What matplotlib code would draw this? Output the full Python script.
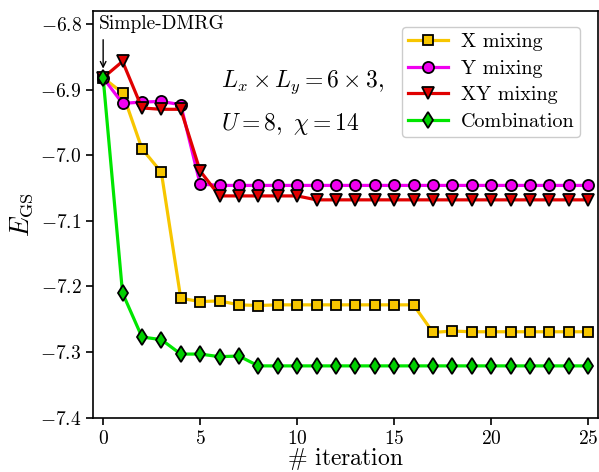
import numpy as np
import matplotlib
matplotlib.use("Agg")
import matplotlib.pyplot as plt

plt.rcParams['font.family'] = 'serif'
plt.rcParams['font.serif'] = ['cmr10']
plt.rcParams['mathtext.fontset'] = 'cm'
plt.rcParams['axes.formatter.use_mathtext'] = True

# iterations
iterations = np.arange(26)

# ground state energies
e_x = [-6.882, -6.905, -6.990, -7.026, -7.218, -7.223, -7.222, -7.228, -7.229,
       -7.228, -7.228, -7.228, -7.228, -7.228, -7.228, -7.228, -7.228,
       -7.270, -7.268, -7.269, -7.269, -7.269, -7.269, -7.269, -7.269, -7.269]
e_y = [-6.882, -6.921, -6.919, -6.918, -6.923, -7.044] + [-7.046] * 20
e_xy = [-6.882, -6.857, -6.928, -6.930, -6.930, -7.024,
        -7.062, -7.062, -7.062, -7.062, -7.062] + [-7.068] * 15
e_comb = [-6.882, -7.210, -7.277, -7.281, -7.303, -7.303, -7.307, -7.306] + [-7.321] * 18

fig = plt.figure(figsize=(5.99, 4.72), dpi=100)
ax = fig.add_axes([0.156, 0.115, 0.842, 0.862])

ax.plot(iterations, e_x, '-s', color='#F7C600', mfc='#F7C600', mec='k', mew=1.3,
        ms=6.5, lw=2.3, label='X mixing')
ax.plot(iterations, e_y, '-o', color='#F000F0', mfc='#F000F0', mec='k', mew=1.3,
        ms=8, lw=2.3, label='Y mixing')
ax.plot(iterations, e_xy, '-v', color='#E00000', mfc='#E00000', mec='k', mew=1.3,
        ms=9, lw=2.3, label='XY mixing')
ax.plot(iterations, e_comb, '-d', color='#00E600', mfc='#00D000', mec='k', mew=1.3,
        ms=8, lw=2.3, label='Combination')

ax.set_xlim(-0.5, 25.5)
ax.set_ylim(-7.4, -6.78)
ax.set_xticks([0, 5, 10, 15, 20, 25])
ax.set_yticks([-7.4, -7.3, -7.2, -7.1, -7.0, -6.9, -6.8])
ax.yaxis.set_major_formatter(matplotlib.ticker.FuncFormatter(lambda v, p: '$-%.1f$' % abs(v)))
ax.xaxis.set_major_formatter(matplotlib.ticker.FuncFormatter(lambda v, p: '$%d$' % v))
ax.tick_params(labelsize=14, width=1.2, length=5)
for s in ax.spines.values():
    s.set_linewidth(1.2)

ax.set_xlabel(r'$\#$ iteration', fontsize=17, labelpad=-1)
ax.set_ylabel(r'$E_{\rm GS}$', fontsize=19, labelpad=4)

# label of the starting point
ax.text(-0.2, -6.80, 'Simple-DMRG', fontsize=14, ha='left', va='center')
ax.annotate('', xy=(0, -6.868), xytext=(0, -6.824),
            arrowprops=dict(arrowstyle='->', color='k', lw=1.0, shrinkA=0, shrinkB=0))
ax.text(6.1, -6.889, r'$L_x \times L_y = 6 \times 3,$', fontsize=17, ha='left', va='center')
ax.text(6.1, -6.952, r'$U = 8,\ \chi = 14$', fontsize=17, ha='left', va='center')

ax.legend(loc='upper right', fontsize=14.5, handlelength=2.0, borderpad=0.3,
          labelspacing=0.42, handletextpad=0.6, framealpha=1, edgecolor='#cccccc',
          bbox_to_anchor=(0.985, 0.985))

fig.savefig('out.png', dpi=100)
